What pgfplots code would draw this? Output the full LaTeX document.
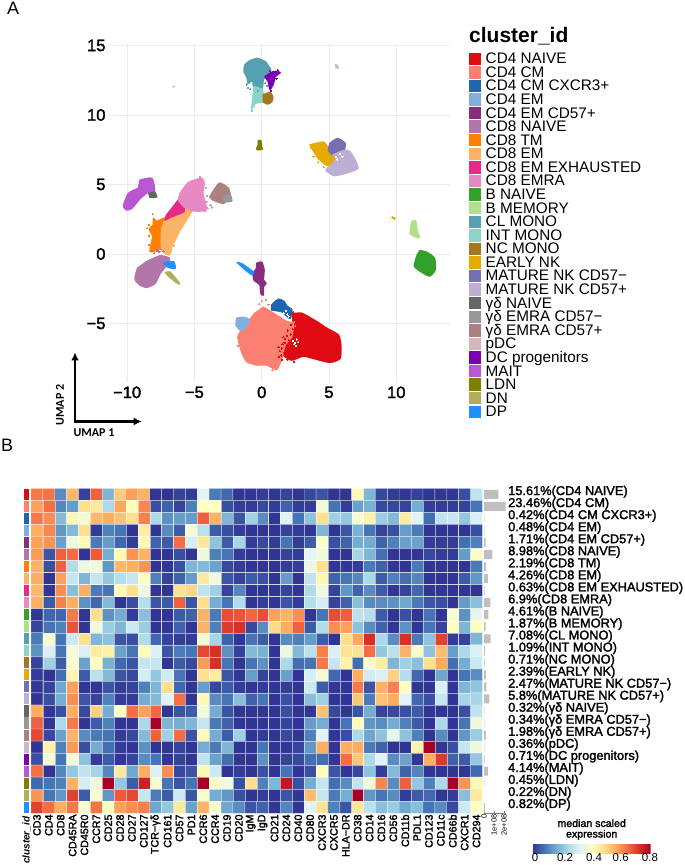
\documentclass[border=0pt]{standalone}
\usepackage{fontspec}
\usepackage{pgfplots}
\pgfplotsset{compat=1.18}
\usetikzlibrary{arrows.meta}
\setmainfont{Liberation Sans}
\newfontfamily\semib[FakeBold=2]{Liberation Sans}
\newfontfamily\umapfont{Carlito}

% cluster colours, in legend order
\definecolor{c0}{HTML}{DF0A12}\definecolor{c1}{HTML}{FB8072}\definecolor{c2}{HTML}{1F65B0}
\definecolor{c3}{HTML}{7FB0E0}\definecolor{c4}{HTML}{882D7E}\definecolor{c5}{HTML}{B276A8}
\definecolor{c6}{HTML}{FF7F00}\definecolor{c7}{HTML}{FDB366}\definecolor{c8}{HTML}{E7298A}
\definecolor{c9}{HTML}{E78AC3}\definecolor{c10}{HTML}{33A02C}\definecolor{c11}{HTML}{B2DF8A}
\definecolor{c12}{HTML}{55A1B1}\definecolor{c13}{HTML}{8DD3C7}\definecolor{c14}{HTML}{A6761D}
\definecolor{c15}{HTML}{E6AB02}\definecolor{c16}{HTML}{7570B3}\definecolor{c17}{HTML}{BEAED4}
\definecolor{c18}{HTML}{666666}\definecolor{c19}{HTML}{999999}\definecolor{c20}{HTML}{AA8282}
\definecolor{c21}{HTML}{D5B7BB}\definecolor{c22}{HTML}{7B00B4}\definecolor{c23}{HTML}{BA55D3}
\definecolor{c24}{HTML}{808000}\definecolor{c25}{HTML}{AEAE5C}\definecolor{c26}{HTML}{1E90FF}
\definecolor{gridc}{HTML}{EDEDED}

\pgfplotsset{
  blob/.style={fill=#1,draw=#1,line width=1.6pt,line join=round,smooth,tension=.35},
  specks/.style={only marks,mark=*,mark size=.6pt,color=#1,mark options={draw=#1,fill=#1,line width=0pt},forget plot},
  colormap={rdylbu}{rgb255=(49,54,149) rgb255=(69,117,180) rgb255=(116,173,209) rgb255=(171,217,233)
    rgb255=(224,243,248) rgb255=(255,255,191) rgb255=(254,224,144) rgb255=(253,174,97)
    rgb255=(244,109,67) rgb255=(215,48,39) rgb255=(165,0,38)},
}

% heatmap values, one line per cluster, 38 markers per line (scale 0-10 = 0-0.8)
\newcount\hx \newcount\hy
\let\heatcoords\empty
\pgfplotsforeachungrouped \v in {
7.8,7.9,1.4,6.8,0.2,8.2,2.2,6.4,7.2,6.9,0,0,0.2,0.1,4.1,1.1,0.8,0,0,0.1,0,0.2,0,0.3,0.5,0,0,5.2,2.2,0.3,0.1,0,0.2,0,0,0,0.4,3.4,
7.2,8.0,1.3,1.7,6.0,5.7,3.0,7.1,5.1,7.6,0.4,0.7,0.2,1.2,5.0,5.0,0.4,0.1,0.1,0.3,0.1,0.7,0.1,0.1,4.6,1,0.1,1.8,2.1,0.3,0.3,0.2,2,0.1,0.1,0.1,0.2,1,
7.8,7.5,2.3,5.3,4.6,6.8,7,6.6,6,7.7,3,1.5,1.7,1.7,8.2,6.9,2.2,0.5,2.8,1.4,0,4,1,2.5,6,2.8,2.6,4.7,5.4,2.7,2.3,5.6,4,0.9,3.4,3.5,2.6,3.9,
7,7.6,1.6,2.3,6,0.1,1.2,1,0,5.6,0,1.4,0.6,4.6,3.3,0.6,0.4,0.1,0,0,0,0.2,0.1,0,2.2,0,0.5,2.1,1,0.2,0.4,1.7,1.1,0,0,0,0,0.4,
7.2,7.4,1.8,4.5,5.2,1.1,1.7,0.8,0.1,5.2,0.7,0.6,8,3.8,5.8,2.5,0.6,2.9,0.1,0.3,0.1,1,0.1,0.6,4.8,0.4,0.7,2,2,0.7,1.2,1.8,1.8,0.1,0.1,0.1,0.9,1.2,
7.3,0.5,8.2,8,0,8.3,2,5.2,7.4,6.9,0,0,0.4,0,4.5,1.2,1,0.1,0,0,0,0.2,0.1,4.1,4.5,0,0,2.9,2.2,0.9,0,0,0,0.3,0.1,0.1,1.7,4.9,
6.9,0.4,8.2,3.1,4.5,4.5,1.6,6.8,7,7.4,0,0,0.4,2.2,2.3,1.8,0.3,0.1,0,0,0,0.1,0.1,4.3,6,0,0,0.1,1.1,0.7,0,0,1.1,0,0,0,0,1.1,
7,0,7.2,3.5,2.2,3.5,2.6,3.2,3.5,5,1.2,0.2,0.7,1.7,5.7,4.5,0.5,0.2,0.6,0.4,0,1.7,0,3.4,5.3,0.7,1,1.3,3,0.6,1.2,0.9,1.3,0,0,0,0.6,1.6,
6.8,0,7.5,2.4,7,1.1,1,5.2,6,4.4,0,0,6,6.2,3.4,2.8,0.2,1.3,0,0,0,0.2,0,3.1,4.5,0.2,1.6,0.7,1.4,0.6,0,0.2,0.8,0,0,0,0,0,
7,0.6,7.7,7,1.5,0.8,2.3,0,0.4,3.2,0.5,0.6,8.2,0.5,6,2,1,3.1,0,0.1,0,0.5,0.1,3.2,3.8,0.2,0.7,2.4,1.4,1.4,1.5,1.9,1.1,0.5,0.4,0,1.7,2.4,
0,0.8,0.8,7.8,0,6,1.5,2,0.1,2.4,0,0,0.6,0.7,6.9,1.1,8.5,8.4,8.1,8.5,7.2,6.9,7.5,0,1,8.5,8.2,3.3,3.2,0.6,0,0.4,0,1,0,4.7,1.5,4.2,
0.2,1,1.2,8.4,0,4.5,2.7,2.2,3.6,2.7,0,0,0.7,0,6.9,1.2,8.8,9,0.3,1.4,6.1,7,8.2,0.6,3.1,7.5,7.2,2.5,1.4,0.7,0,1.5,0,1,0.2,5,2.2,5,
1.1,4.7,1,3.6,6,2.2,2.5,0.5,0.4,3.1,0.8,0.2,0.1,0.1,4.6,2.9,0.7,0,1,0.6,0,1.4,1.2,1.7,0.6,0,6,7.1,9,3,1.4,9,1.1,2.5,8.7,0.1,0.2,2.2,
1.5,3.9,1,4.6,3.9,5.6,5.5,1.8,1,5.1,3.9,0.5,1.1,1,8.6,9,1.5,0.2,2.3,2.1,0,4.4,2.3,3.3,7.7,3.9,5.9,5.9,8,2.6,3.3,6.9,4.8,2.5,6.7,1.7,3,3.9,
0.2,2.8,0.6,4.8,1.8,5,2.1,0.8,0.5,3.5,3.5,0,0.6,0.3,7.3,9,1,0,1,1.5,0,3,0.9,1,7.8,3.5,5.4,0.9,4.8,5.6,2.2,2.8,2.4,6,7.1,0.9,2,3.6,
0.1,0,0.9,5.3,0.6,3.3,2.3,0.5,0.3,3.8,2.6,3.7,1,0,6,5.6,0.5,0,1.7,0.2,0,1.8,0,3.8,4.6,0.8,0,7,3.7,3.9,6.3,3.2,0.8,0,1.9,0,1,1.4,
0,0.2,1.9,7.2,0,0,0.5,0.1,0.2,1.2,2.2,6,0.8,0,1.7,0.3,0.6,0.1,0,0.1,0,0.1,0,3.6,0.6,0,0,7.8,0.5,6.9,7.7,5,0,0,3.9,0,2.2,2.5,
0,0.4,2,7.5,0.5,0.2,1.2,0.1,0.1,2,2.3,4,8,0,5.2,1.4,1,2.4,0.7,1,0,0.4,0,2.4,2.8,0,0,6.5,1.1,6.6,7,4,0.8,0.4,3.5,0,2.9,2.9,
7,0,0.4,7,0.3,6.3,2,4.9,8,7.2,8.1,0,0.5,0.6,4.6,2,0.5,0,0,0,0,0.4,0,0,6.6,0.3,0,0.5,2,0.2,0.3,0.4,0.6,0,0,0,0.4,3.4,
8.2,0,3,7.8,0,0.6,1.2,0,0,3,10,2.2,2,2.2,3.5,1.1,0.7,0,0,0,0,0.2,0,1.7,2,0,1,5.1,1.6,1.4,2,1.2,0.6,0,3,0,1,4.5,
8.6,0.3,1.8,6.9,1.4,1.1,1,0.1,0.3,2.3,8.2,2.8,8,0.5,5.1,2,0.6,2.8,0,0.1,0,0.3,0,1.2,4,0,0.4,3,1.9,2.5,4.2,2.5,1.2,0,1.4,0,1.6,2.7,
0,5.5,1.2,7.3,0.4,2,0.9,0.1,0,1.5,0,0,0.2,0,2,1.1,2.2,0,0,1,0,0,0.2,1.6,7,0,7,7,1.1,0.7,0,0,5.4,10,0,0.4,3.5,4.5,
0.4,4.6,1,4.6,2.5,0.1,0.6,0,0.2,1.4,1,0,0.2,0,3.4,1.8,0.9,0,0,1.5,0,0.2,0.3,0.9,0.9,0,8,6.5,3,4,1.4,1.8,0,7,8.8,0.7,0.6,2.6,
8,0,1.3,2.6,3.4,2.9,1.3,5.7,1.9,7,3.9,7.5,0.3,0.5,5.2,3.6,0,0.1,0,0.4,0,1,0,0.4,5.1,0.5,0,0.3,2.5,0.1,2.3,0.7,1.3,0,0,0,0,0.8,
0.8,1,1.2,6.9,3.8,4.5,10,2.6,0.6,9.3,4.7,1,0.5,1,10,4.8,4.5,0.4,6,1.2,2.2,9.5,0.4,2,3.5,0.9,1.4,3.4,4.5,7.6,1.4,8.2,2.6,1.2,3,10,7.4,5.2,
7.4,1,1.6,8.7,0.6,4.8,1.6,8.3,8.6,3.5,1.1,0.6,3.6,0.5,4.8,2,1.6,0.4,0,0.1,0,0.5,0,6.7,3.5,1.1,2,10,1.6,1,1.4,0.1,0.6,0.8,0,0.1,2.4,5.7,
8.7,8,7,7.8,4.7,7.9,5,7.2,7.5,7.7,1.9,2.6,5.7,1.8,6.9,4.7,1.9,1.4,0.5,0.7,0,1.3,0,4,5.9,1.2,0.5,5.8,3.3,2.4,2.7,1.9,2.4,1,1.4,0.3,3.6,4.9
}{%
  \xdef\heatcoords{\heatcoords (\the\hx,\the\hy) [\v]}%
  \global\advance\hx by 1
  \ifnum\hx=38 \global\hx=0 \global\advance\hy by 1 \fi
}
\def\heatplot#1{\addplot[matrix plot,mesh/cols=38,point meta=explicit,
  draw=white,draw opacity=.55,line width=.4pt] coordinates {#1};}

\begin{document}
\begin{tikzpicture}[x=1pt,y=1pt]
\useasboundingbox (0,0) rectangle (685,865);

% panel A: UMAP
\begin{axis}[
  at={(108pt,483pt)},anchor=south west,scale only axis,width=342pt,height=339pt,
  xmin=-11.42,xmax=13.99,ymin=-9.21,ymax=15.18,
  axis line style={draw=none},
  grid=major,grid style={gridc,line width=.6pt},
  major tick length=0pt,
  xtick={-10,-5,0,5,10},xticklabels={−10,−5,0,5,10},
  ytick={-5,0,5,10,15},yticklabels={−5,0,5,10,15},
  ticklabel style={font=\semib\fontsize{16.5}{16.5}\selectfont},
  xticklabel style={yshift=-1pt},
  yticklabel style={xshift=1pt},
  legend style={at={(1.0556,.9729)},anchor=north west,draw=none,fill=none,
    inner sep=0pt,outer sep=0pt,row sep=0pt,font=\fontsize{15.3}{15.3}\selectfont,
    nodes={inner sep=0pt,outer sep=0pt,text height=11.5pt,text depth=2.08pt}},
  legend cell align=left,
  legend image code/.code={\fill[#1,draw=none] (0pt,-6pt) rectangle (12.4pt,6.4pt);\path[draw=none,fill=none] (0pt,0pt) -- (16.7pt,0pt);},
]
\addplot[blob=c0] coordinates {(2.28,-4.32)(2.97,-4.27)(4.08,-4.87)(4.83,-5.35)(5.69,-5.83)(5.87,-6.55)(5.82,-7.51)(5.07,-7.79)(3.84,-7.51)(3.09,-7.34)(2.23,-7.63)(1.61,-7.27)(1.56,-6.55)(2.23,-5.95)(2.35,-4.99)} -- cycle;
\addlegendentry{CD4 NAIVE}
\addplot[blob=c1] coordinates {(0.12,-3.84)(0.87,-4.27)(1.86,-4.87)(2.35,-4.99)(2.23,-5.95)(1.73,-6.55)(1.49,-7.51)(1.11,-8.30)(0.37,-7.98)(-0.37,-7.98)(-1.11,-7.74)(-1.49,-7.03)(-1.73,-6.19)(-1.73,-5.83)(-1.11,-4.99)(-0.50,-4.27)} -- cycle;
\addlegendentry{CD4 CM}
\addplot[blob=c2] coordinates {(0.74,-3.67)(1.24,-3.26)(1.66,-3.43)(1.86,-3.74)(2.23,-4.03)(2.10,-4.63)(1.49,-4.15)(0.74,-4.03)} -- cycle;
\addlegendentry{CD4 CM CXCR3+}
\addplot[blob=c3] coordinates {(-1.86,-4.63)(-1.36,-4.56)(-0.92,-4.75)(-1.24,-5.35)(-1.61,-5.47)(-1.91,-5.11)} -- cycle;
\addlegendentry{CD4 EM}
\addplot[blob=c4] coordinates {(-0.37,-0.67)(0,-0.60)(0.17,-1.15)(0.12,-1.87)(0.32,-2.11)(0.12,-2.35)(0.12,-2.95)(-0.07,-2.83)(-0.12,-2.23)(-0.57,-1.87)(-0.62,-1.39)(-0.37,-1.03)} -- cycle;
\addlegendentry{CD4 EM CD57+}
\addplot[blob=c5] coordinates {(-8.54,-0.55)(-7.55,-0.14)(-6.86,-0.31)(-7.05,-0.79)(-7.55,-1.39)(-7.92,-2.11)(-8.54,-2.40)(-9.03,-2.23)(-9.41,-1.82)(-9.23,-1.03)} -- cycle;
\addlegendentry{CD8 NAIVE}
\addplot[blob=c6] coordinates {(-8.04,2.57)(-7.80,2.33)(-7.18,2.57)(-7.35,1.49)(-7.30,1.01)(-7.55,0.41)(-8.29,0.17)(-8.09,1.25)(-8.34,1.77)(-8.04,2.09)} -- cycle;
\addlegendentry{CD8 TM}
\addplot[blob=c7] coordinates {(-5.77,3.05)(-5.20,3.12)(-5.82,2.09)(-6.06,1.73)(-6.68,0.53)(-6.86,-0.07)(-7.43,0.29)(-7.43,1.73)(-7.18,2.45)(-6.68,2.69)} -- cycle;
\addlegendentry{CD8 EM}
\addplot[blob=c8] coordinates {(-6.19,3.88)(-5.77,3.45)(-5.77,3.05)(-6.68,2.69)(-7.18,2.45)(-7.05,2.81)} -- cycle;
\addlegendentry{CD8 EM EXHAUSTED}
\addplot[blob=c9] coordinates {(-6.06,4.36)(-5.45,5.13)(-4.46,5.44)(-4.28,5.08)(-4.38,4.36)(-4.13,3.17)(-5.20,3.12)(-5.77,3.41)(-6.19,3.88)} -- cycle;
\addlegendentry{CD8 EMRA}
\addplot[blob=c10] coordinates {(11.76,0.24)(12.26,0.12)(12.83,-0.31)(12.88,-1.15)(12.46,-1.58)(11.76,-1.22)(11.34,-0.86)(11.56,-0.07)} -- cycle;
\addlegendentry{B NAIVE}
\addplot[blob=c11] coordinates {(11.14,2.32)(11.44,2.37)(11.56,1.61)(11.71,1.18)(11.27,1.29)(11.02,1.49)} -- cycle;
\addlegendentry{B MEMORY}
\addplot[blob=c12] coordinates {(-0.37,14.08)(0.25,13.84)(0.67,13.24)(0.50,12.88)(0.12,12.57)(0.02,11.92)(-0.57,11.92)(-0.67,12.52)(-0.99,12.28)(-1.11,12.76)(-1.31,13.12)(-1.24,13.60)(-0.87,13.91)} -- cycle;
\addlegendentry{CL MONO}
\addplot[blob=c13] coordinates {(-0.57,12.04)(0,11.85)(0.12,11.44)(0.17,10.96)(-0.37,10.89)(-0.67,10.65)(-0.74,10.36)(-0.67,11.08)(-0.62,11.56)} -- cycle;
\addlegendentry{INT MONO}
\addplot[blob=c14] coordinates {(0.12,11.44)(0.62,11.61)(0.82,11.27)(0.74,10.96)(0.42,10.79)(0.12,10.96)} -- cycle;
\addlegendentry{NC MONO}
\addplot[blob=c15] coordinates {(3.59,7.84)(4.58,8.04)(4.95,7.60)(5.32,7.24)(5.57,6.52)(4.83,6.40)(4.21,6.88)(3.96,7.24)} -- cycle;
\addlegendentry{EARLY NK}
\addplot[blob=c16] coordinates {(5.07,7.96)(5.62,8.30)(6.19,7.96)(6.06,7.36)(5.32,7.12)(4.95,7.48)} -- cycle;
\addlegendentry{MATURE NK CD57−}
\addplot[blob=c17] coordinates {(5.32,7.12)(6.06,7.43)(6.56,7.36)(7.13,6.16)(5.45,5.64)(4.78,6.04)(5.20,6.40)(5.57,6.88)} -- cycle;
\addlegendentry{MATURE NK CD57+}
\addplot[blob=c18] coordinates {(-8.42,4.48)(-8.04,4.56)(-7.80,4.12)(-8.29,4.08)} -- cycle;
\addlegendentry{γδ NAIVE}
\addplot[blob=c20,forget plot] coordinates {(-3.84,4.12)(-3.14,5.08)(-2.48,4.72)(-2.35,4.12)(-2.85,3.65)(-3.59,3.88)} -- cycle;
\addplot[blob=c19] coordinates {(-2.85,4.12)(-2.35,4.24)(-2.23,3.81)(-2.72,3.77)} -- cycle;
\addlegendentry{γδ EMRA CD57−}
\addplot[blob=c20] coordinates {(-3.84,4.12)(-3.14,5.08)(-2.85,4.12)(-3.59,3.88)} -- cycle;
\addlegendentry{γδ EMRA CD57+}
\addplot[blob=c21] coordinates {(5.52,13.4)(5.65,13.42)(5.65,13.55)(5.54,13.55)} -- cycle;
\addlegendentry{pDC}
\addplot[blob=c22] coordinates {(0.25,12.76)(0.87,13.12)(1.36,13.05)(0.99,12.76)(0.87,12.28)(0.62,11.85)(0.50,12.40)} -- cycle;
\addlegendentry{DC progenitors}
\addplot[blob=c23] coordinates {(-9.03,5.32)(-8.17,5.44)(-7.97,4.60)(-8.42,4.48)(-9.03,4.00)(-9.65,3.29)(-10.02,3.17)(-10.27,3.45)(-9.90,4.36)(-9.16,4.72)} -- cycle;
\addlegendentry{MAIT}
\addplot[blob=c24] coordinates {(-0.25,8.15)(-0.07,8.15)(-0.02,7.72)(0.02,7.53)(-0.37,7.53)(-0.25,7.84)} -- cycle;
\addlegendentry{LDN}
\addplot[blob=c25,line width=.8pt] coordinates {(-7.18,-1.34)(-6.81,-1.27)(-6.12,-2.06)(-6.19,-2.18)(-6.93,-1.63)} -- cycle;
\addlegendentry{DN}
\addplot[blob=c26] coordinates {(-7.30,-0.67)(-6.56,-0.55)(-6.44,-1.03)(-6.93,-0.96)} -- cycle;
\addlegendentry{DP}
\addplot[blob=c26,forget plot,line width=.8pt] coordinates {(-1.86,-0.60)(-1.49,-0.67)(-0.62,-1.27)(-0.74,-1.51)(-1.24,-1.15)} -- cycle;
% scattered events round the clusters
\addplot[specks=c15] coordinates {(9.72,2.62)(9.8,2.6)(9.88,2.55)(3.7,7.6)(4,7.7)(4.2,6.6)(4.6,6.25)(3.85,7.0)(5.1,6.95)};
\addplot[specks=c21] coordinates {(-6.56,12.04)(5.5,13.6)(5.66,13.38)};
\addplot[specks=c0] coordinates {(1.7,-6.4)(1.9,-6.7)(2.0,-6.2)(2.15,-5.8)(2.3,-5.4)(2.0,-7.0)(1.7,-7.1)(1.5,-6.8)(1.8,-7.3)(2.3,-6.5)(1.95,-5.5)(2.2,-5.1)(1.45,-7.3)(1.6,-6.0)(1.35,-7.0)(1.3,-7.4)(1.5,-7.6)(1.9,-7.6)(2.4,-7.75)(1.75,-6.1)(1.55,-6.5)(1.25,-6.7)(1.85,-5.9)(2.35,-4.2)(2.4,-4.5)};
\addplot[specks=white] coordinates {(2.35,-6.25)(2.5,-6.4)(2.6,-6.15)(2.4,-6.5)(2.7,-6.35)(2.55,-6.6)(1.8,-4.1)(1.9,-4.35)(1.65,-4.25)(2.0,-4.5)(1.5,-4.3)(5.5,7.0)(5.8,7.2)(5.6,6.8)(6.0,7.0)};
\addplot[specks=c1] coordinates {(0.0,-3.4)(0.3,-3.3)(-0.2,-3.6)(2.4,-4.9)(2.5,-5.2)(0.5,-3.65)(-1.75,-6.6)(0.8,-8.35)};
\addplot[specks=c12] coordinates {(-1.0,11.95)(-0.85,11.85)(-1.1,12.2)(0.4,12.1)(0.25,12.3)(-0.3,11.75)};
\addplot[specks=c13] coordinates {(-0.7,10.55)(-0.65,10.75)(-0.75,10.3)(-0.55,10.6)};
\addplot[specks=c22] coordinates {(1.2,13.2)(0.6,13.15)(1.1,12.6)(0.7,11.75)};
\addplot[specks=c6] coordinates {(-8.1,2.85)(-8.35,2.1)(-8.5,1.85)(-8.4,1.3)(-8.35,0.65)};
\addplot[specks=c7] coordinates {(-5.55,3.2)(-5.9,2.4)(-6.2,1.55)(-6.5,1.25)(-6.75,0.2)(-6.5,0.6)};
\addplot[specks=c9] coordinates {(-4.2,3.1)(-4,3.3)(-3.8,3.5)(-3.7,3.35)(-4.05,4.2)(-4.15,4.75)(-4.1,3.75)(-4.6,5.55)};
\addplot[specks=c5] coordinates {(-7.9,0.45)(-7.7,0.3)(-7.5,0.35)(-7.6,0.15)(-7.3,0.2)(-7.8,0.2)(-8,0.05)};
\end{axis}

% panel B: heatmap
\begin{axis}[
  at={(31pt,51.7pt)},anchor=south west,scale only axis,width=451.4pt,height=325pt,
  xmin=-.5,xmax=37.5,ymin=-.5,ymax=26.5,y dir=reverse,
  axis line style={draw=none},major tick length=0pt,
  ytick=\empty,
  xtick={0,...,37},
  xticklabels={CD3,CD4,CD8,CD45RA,CD45R0,CCR7,CD25,CD28,CD27,CD127,TCR−γδ,CD161,CD57,PD1,CCR6,CCR4,CD19,CD20,IgM,IgD,CD21,CD24,CD40,CD80,CXCR3,CXCR5,HLA−DR,CD38,CD14,CD16,CD56,CD11b,PDL1,CD123,CD11c,CD66b,CXCR1,CD294},
  xticklabel style={rotate=90,anchor=east,font=\semib\fontsize{10.7}{10.7}\selectfont,inner xsep=1pt,yshift=0pt},
  colormap name=rdylbu,point meta min=0,point meta max=10,
  colorbar horizontal,
  colorbar style={at={(1.1114,-.0945)},anchor=north west,width=118pt,height=9.3pt,
    xtick={0.2,2.74,5.2,7.46,9.94},xticklabels={0,0.2,0.4,0.6,0.8},
    major tick length=0pt,xticklabel pos=lower,
    xticklabel style={font=\fontsize{11.5}{11.5}\selectfont,yshift=3pt},
    axis line style={draw=none}},
]
\expandafter\heatplot\expandafter{\heatcoords}
\end{axis}

% cluster colour strip
\begin{axis}[
  at={(24pt,51.7pt)},anchor=south west,scale only axis,width=5.3pt,height=325pt,
  xmin=0,xmax=1,ymin=-.5,ymax=26.5,y dir=reverse,hide axis,
]
\pgfplotsinvokeforeach{0,...,26}{
  \addplot[xbar,bar shift=0pt,bar width=.92,fill=c#1,draw=none] coordinates {(1,#1)};
}
\end{axis}

% event counts and row labels
\begin{axis}[
  at={(484pt,51.7pt)},anchor=south west,scale only axis,width=22pt,height=325pt,
  xmin=0,xmax=2.2,ymin=-.5,ymax=26.5,y dir=reverse,
  axis x line*=bottom,axis y line*=right,
  x axis line style={gray,line width=.4pt,-},y axis line style={draw=none},
  xtick={0,1,2},xticklabels={0,1e+08,2e+08},
  xticklabel style={rotate=90,anchor=east,font=\fontsize{7.5}{7.5}\selectfont,inner xsep=1pt},
  xtick style={gray,line width=.3pt},
  x tick style={/pgfplots/major tick length=2pt},
  ytick={0,...,26},y tick style={draw=none},
  yticklabel pos=right,
  yticklabels={15.61\%(CD4 NAIVE),23.46\%(CD4 CM),0.42\%(CD4 CM CXCR3+),0.48\%(CD4 EM),1.71\%(CD4 EM CD57+),8.98\%(CD8 NAIVE),2.19\%(CD8 TM),4.26\%(CD8 EM),0.63\%(CD8 EM EXHAUSTED),6.9\%(CD8 EMRA),4.61\%(B NAIVE),1.87\%(B MEMORY),7.08\%(CL MONO),1.09\%(INT MONO),0.71\%(NC MONO),2.39\%(EARLY NK),2.47\%(MATURE NK CD57−),5.8\%(MATURE NK CD57+),0.32\%(γδ NAIVE),0.34\%(γδ EMRA CD57−),1.98\%(γδ EMRA CD57+),0.36\%(pDC),0.71\%(DC progenitors),4.14\%(MAIT),0.45\%(LDN),0.22\%(DN),0.82\%(DP)},
  yticklabel style={anchor=west,inner sep=0pt,xshift=2pt,yshift=2.6pt,font=\semib\fontsize{12.8}{12.8}\selectfont},
]
\addplot[xbar,bar shift=0pt,bar width=.75,fill=black!25,draw=none] coordinates {
(1.44,0)(2.17,1)(0.04,2)(0.044,3)(0.158,4)(0.83,5)(0.20,6)(0.39,7)(0.058,8)(0.64,9)
(0.43,10)(0.17,11)(0.655,12)(0.10,13)(0.066,14)(0.22,15)(0.23,16)(0.54,17)(0.03,18)(0.03,19)
(0.18,20)(0.033,21)(0.066,22)(0.38,23)(0.04,24)(0.02,25)(0.076,26)};
\end{axis}

% free annotations
\node[anchor=base west,inner sep=0pt,font=\fontsize{18}{18}\selectfont] at (7,850) {A};
\node[anchor=base west,inner sep=0pt,font=\fontsize{18}{18}\selectfont] at (1,413) {B};
\node[anchor=base west,inner sep=0pt,font=\bfseries\fontsize{21}{21}\selectfont] at (469,822) {cluster\_id};
\node[rotate=90,anchor=east,inner sep=0pt,font=\bfseries\itshape\fontsize{10}{10}\selectfont] at (26.5,48.5) {cluster\_id};
\node[align=center,inner sep=0pt,font=\semib\fontsize{10.6}{10.6}\selectfont] at (591.7,35.5) {median scaled\\expression};
\draw[line width=2.2pt,-{Latex[length=8pt,width=8pt]}] (75,443.5) -- (75,512.5);
\draw[line width=2.2pt,-{Latex[length=8pt,width=8pt]}] (73.9,443.5) -- (141.7,443.5);
\node[anchor=center,inner sep=0pt,font=\umapfont\bfseries\fontsize{12}{12}\selectfont] at (94,432) {UMAP 1};
\node[rotate=90,anchor=center,inner sep=0pt,font=\umapfont\bfseries\fontsize{12}{12}\selectfont] at (60,460) {UMAP 2};
\end{tikzpicture}
\end{document}
